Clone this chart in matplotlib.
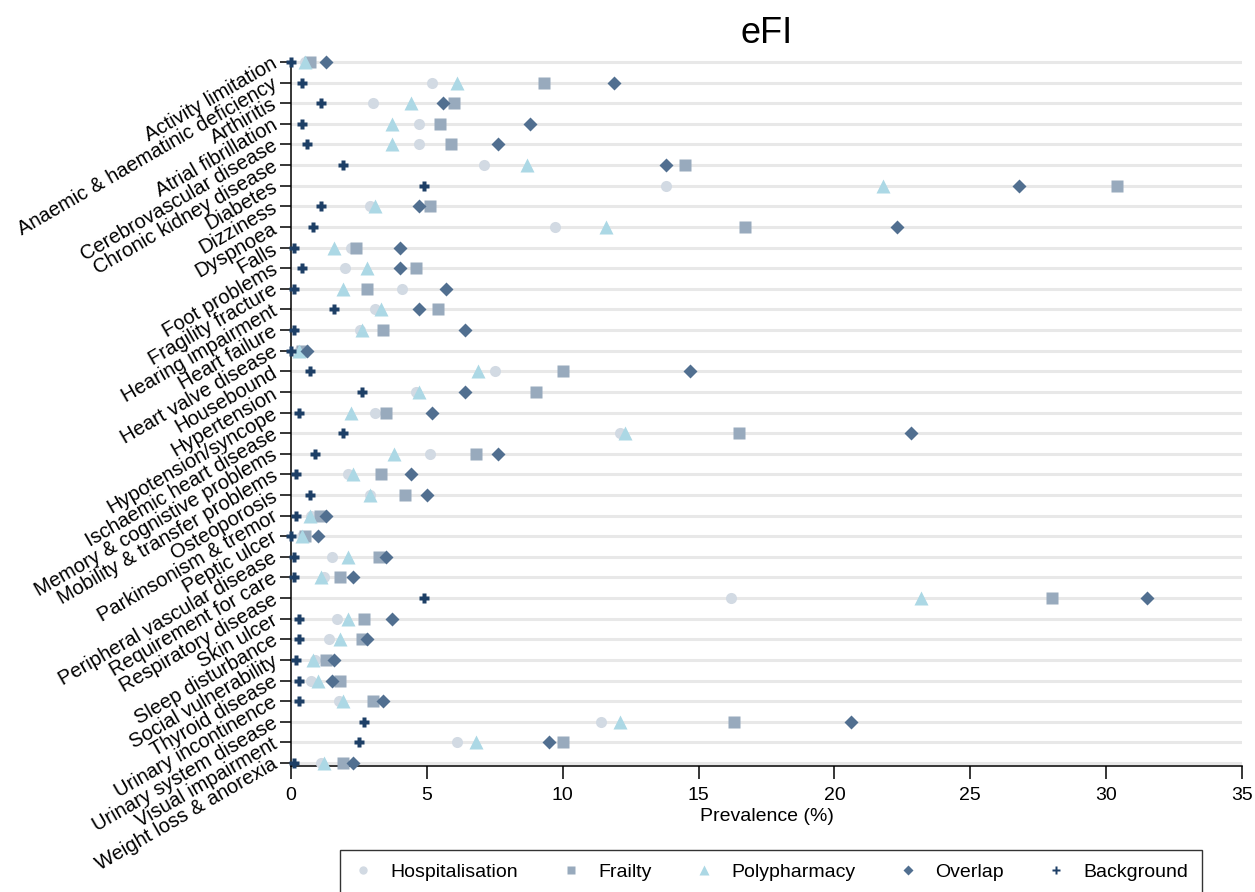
import matplotlib
matplotlib.use("Agg")
import matplotlib.pyplot as plt
from matplotlib.lines import Line2D

plt.rcParams['font.family'] = ['Liberation Sans', 'DejaVu Sans']

categories = [
    "Activity limitation", "Anaemic & haematinic deficiency", "Arthiritis",
    "Atrial fibrillation", "Cerebrovascular disease", "Chronic kidney disease",
    "Diabetes", "Dizziness", "Dyspnoea", "Falls", "Foot problems",
    "Fragility fracture", "Hearing impairment", "Heart failure",
    "Heart valve disease", "Housebound", "Hypertension", "Hypotension/syncope",
    "Ischaemic heart disease", "Memory & cognistive problems",
    "Mobility & transfer problems", "Osteoporosis", "Parkinsonism & tremor",
    "Peptic ulcer", "Peripheral vascular disease", "Requirement for care",
    "Respiratory disease", "Skin ulcer", "Sleep disturbance",
    "Social vulnerability", "Thyroid disease", "Urinary incontinence",
    "Urinary system disease", "Visual impairment", "Weight loss & anorexia",
]

hospitalisation = [0.5, 5.2, 3.0, 4.7, 4.7, 7.1, 13.8, 2.9, 9.7, 2.2, 2.0,
                   4.1, 3.1, 2.55, 0.3, 7.5, 4.6, 3.1, 12.1, 5.1, 2.1, 2.9,
                   0.75, 0.4, 1.5, 1.2, 16.2, 1.7, 1.4, 0.9, 0.75, 1.75,
                   11.4, 6.1, 1.1]
frailty = [0.7, 9.3, 6.0, 5.5, 5.9, 14.5, 30.4, 5.1, 16.7, 2.4, 4.6,
           2.8, 5.4, 3.4, 0.4, 10.0, 9.0, 3.5, 16.5, 6.8, 3.3, 4.2,
           1.05, 0.5, 3.25, 1.8, 28.0, 2.7, 2.6, 1.3, 1.8, 3.0,
           16.3, 10.0, 1.9]
polypharmacy = [0.5, 6.1, 4.4, 3.7, 3.7, 8.7, 21.8, 3.1, 11.6, 1.6, 2.8,
                1.9, 3.3, 2.6, 0.3, 6.9, 4.7, 2.2, 12.3, 3.8, 2.3, 2.9,
                0.7, 0.4, 2.1, 1.1, 23.2, 2.1, 1.8, 0.8, 1.0, 1.9,
                12.1, 6.8, 1.2]
overlap = [1.3, 11.9, 5.6, 8.8, 7.6, 13.8, 26.8, 4.7, 22.3, 4.0, 4.0,
           5.7, 4.7, 6.4, 0.6, 14.7, 6.4, 5.2, 22.8, 7.6, 4.4, 5.0,
           1.3, 1.0, 3.5, 2.3, 31.5, 3.7, 2.8, 1.6, 1.5, 3.4,
           20.6, 9.5, 2.3]
background = [0.0, 0.4, 1.1, 0.4, 0.6, 1.9, 4.9, 1.1, 0.8, 0.1, 0.4,
              0.1, 1.6, 0.1, 0.0, 0.7, 2.6, 0.3, 1.9, 0.9, 0.2, 0.7,
              0.2, 0.0, 0.1, 0.1, 4.9, 0.3, 0.3, 0.2, 0.3, 0.3,
              2.7, 2.5, 0.1]

series_names = ["Hospitalisation", "Frailty", "Polypharmacy", "Overlap", "Background"]
series_values = [hospitalisation, frailty, polypharmacy, overlap, background]
xticks = [0, 5, 10, 15, 20, 25, 30, 35]

styles = [
    dict(marker='o', color='#d2dae3', ms=8.0),
    dict(marker='s', color='#98aabd', ms=8.0),
    dict(marker='^', color='#acd8e5', ms=10.4),
    dict(marker='D', color='#516f90', ms=7.0),
    dict(marker='P', color='#1d3f66', ms=7.4),
]

W, H = 1255, 892
fig = plt.figure(figsize=(W / 100, H / 100), dpi=100)
ax = fig.add_axes([291 / W, 1 - 766 / H, (1242 - 291) / W, (766 - 60) / H])

ypos = list(range(len(categories)))
for y in ypos:
    ax.axhline(y, color='#e8e8e8', lw=2.2, zorder=0)

for name, vals, st in zip(series_names, series_values, styles):
    ax.plot(vals, ypos, linestyle='none', marker=st['marker'], ms=st['ms'],
            color=st['color'], mec='none', label=name, clip_on=False, zorder=3)

ax.set_xlim(0, 35)
ax.set_ylim(34 + 3 / 20.62, -2 / 20.62)
ax.set_xticks(xticks)
ax.set_xticklabels([str(t) for t in xticks], fontsize=14)
ax.set_yticks(ypos)
ax.set_yticklabels(categories, fontsize=14.5, rotation=30, ha='right',
                   va='center', rotation_mode='anchor')
ax.tick_params(axis='y', length=8, width=1.1, pad=3)
ax.tick_params(axis='x', length=9, width=1.1, pad=6)
for s in ['top', 'right']:
    ax.spines[s].set_visible(False)
for s in ['left', 'bottom']:
    ax.spines[s].set_linewidth(1.1)

ax.set_xlabel("Prevalence (%)", fontsize=14, labelpad=3)
ax.set_title("eFI", fontsize=26, pad=12)

handles = [Line2D([], [], linestyle='none', marker=st['marker'], color=st['color'],
                  mec='none', ms=st['ms'] * 0.75) for st in styles]
leg = fig.legend(handles, series_names, loc='upper center', ncol=5,
                 bbox_to_anchor=(771 / W, 1 - 850 / H), fontsize=14,
                 frameon=True, fancybox=False, edgecolor='black',
                 columnspacing=2.2, handletextpad=0.9, borderpad=0.7,
                 handlelength=1.0, borderaxespad=0)
leg.get_frame().set_linewidth(1.0)

fig.savefig("out.png", dpi=100)
